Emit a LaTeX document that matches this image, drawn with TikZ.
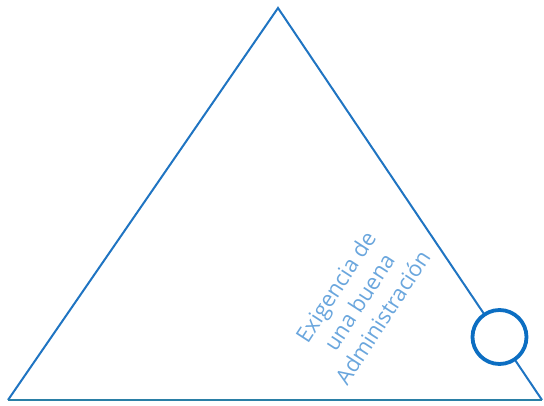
\documentclass[tikz,border=0pt]{standalone}
\usepackage{fontspec}
\setmainfont{Open Sans}
\definecolor{triblue}{HTML}{1F74C2}
\definecolor{baseteal}{HTML}{2A7FA6}
\definecolor{ringblue}{HTML}{0C6EC2}
\definecolor{textblue}{HTML}{6AA6DD}
\tikzset{
  side/.style={draw=triblue, line width=2pt, line join=miter},
  ring/.style={circle, draw=ringblue, line width=3.8pt, minimum size=54pt, inner sep=0pt, fill=white},
  label/.style={text=textblue, font=\fontsize{22}{28}\selectfont, align=center, rotate=57, inner sep=0pt}
}
\begin{document}
\begin{tikzpicture}[x=1pt,y=-1pt]
\useasboundingbox (0,0) rectangle (544,405);
\coordinate (apex) at (278,8);
\coordinate (bl) at (8,400);
\coordinate (br) at (542,400);
\draw[side] (bl) -- (apex) -- (br);
\draw[draw=baseteal, line width=2pt] (bl) -- (br);
\node[ring] (circ) at (499.5,337) {};
\node[label] (txt) at (359,302) {Exigencia de\\una buena\\Administración};
\end{tikzpicture}
\end{document}
